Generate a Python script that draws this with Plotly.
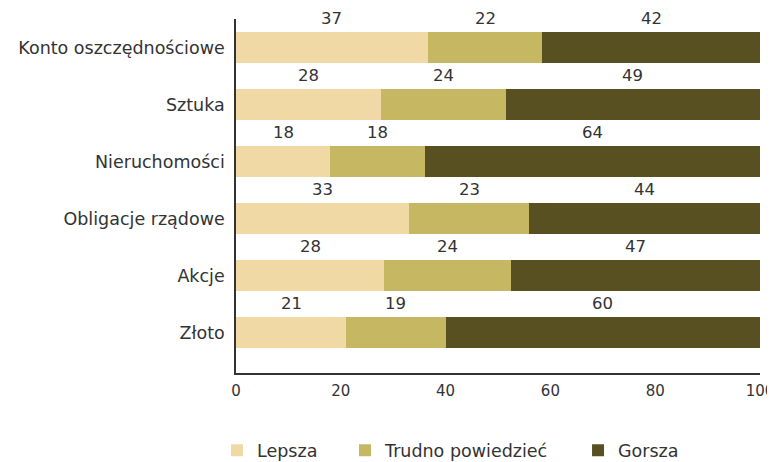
import plotly.graph_objects as go

categories = ["Konto oszczędnościowe", "Sztuka", "Nieruchomości", "Obligacje rządowe", "Akcje", "Złoto"]
lepsza = [37, 28, 18, 33, 28, 21]
trudno = [22, 24, 18, 23, 24, 19]
gorsza = [42, 49, 64, 44, 47, 60]
series_names = ["Lepsza", "Trudno powiedzieć", "Gorsza"]
colors = ["#F0D9A5", "#C6B862", "#595022"]
x_ticks = [0, 20, 40, 60, 80, 100]

font_family = "DejaVu Sans, sans-serif"
fs = 17.5
legend_ids = ["legend", "legend2", "legend3"]
legend_x = [0.2725, 0.4394, 0.7432]

fig = go.Figure()
series = [lepsza, trudno, gorsza]
for name, vals, col, lid in zip(series_names, series, colors, legend_ids):
    fig.add_trace(go.Bar(
        y=categories, x=vals, name=name, orientation="h",
        marker=dict(color=col, line=dict(width=0)), legend=lid,
        showlegend=True,
    ))

annotations = []
for i, cat in enumerate(categories):
    total = sum(s[i] for s in series)
    cum = 0
    for s in series:
        v = s[i] / total * 100
        center = cum + v / 2
        cum += v
        annotations.append(dict(
            x=center, y=cat, text=str(s[i]), showarrow=False,
            yshift=29, font=dict(size=16.5, color="#333333", family=font_family),
        ))

legends = {}
for lid, lx in zip(legend_ids, legend_x):
    legends[lid] = dict(orientation="h", x=lx, xref="container", xanchor="left",
                        y=-0.168, yanchor="top",
                        font=dict(size=fs, color="#333333"), itemwidth=30,
                        bgcolor="rgba(0,0,0,0)")

# the page body adds an 8px margin, so the figure is sized to fit the window
fig.update_layout(
    barmode="stack",
    barnorm="percent",
    bargap=0.46,
    width=767, height=454,
    margin=dict(l=228, r=15, t=11, b=89, autoexpand=False),
    plot_bgcolor="white", paper_bgcolor="white",
    font=dict(family=font_family, size=fs, color="#333333"),
    annotations=annotations,
    showlegend=True,
    xaxis=dict(range=[0, 100], tickvals=x_ticks, showgrid=False, zeroline=False,
               showline=True, linecolor="#333333", linewidth=1.5,
               ticks="outside", ticklen=3, tickcolor="white",
               ticklabeloverflow="allow",
               tickfont=dict(size=15, color="#333333")),
    yaxis=dict(autorange="reversed", showgrid=False, showline=True,
               linecolor="#333333", linewidth=1.5, ticks="outside", ticklen=6,
               tickcolor="white",
               tickfont=dict(size=fs, color="#333333")),
    **legends,
)

fig.write_html("out.html")
